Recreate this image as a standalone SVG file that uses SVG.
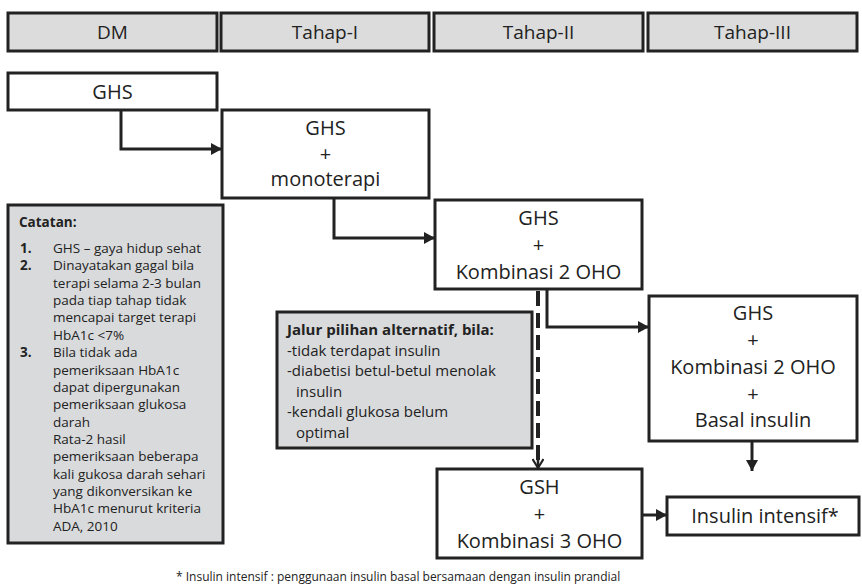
<svg xmlns="http://www.w3.org/2000/svg" width="862" height="585" viewBox="0 0 862 585">
<defs>
<style>
.box{fill:#fff;stroke:#222;stroke-width:3}
.hdr{fill:#dcdcdc;stroke:#222;stroke-width:3}
.note{fill:#d9dadc;stroke:#222;stroke-width:3}
.t{font-family:"Open Sans","Liberation Sans",sans-serif;fill:#222}
.n{font-size:20px;text-anchor:middle}
.h{font-size:19px;text-anchor:middle}
.s{font-size:13.5px}
.a{font-size:15px}
.b{font-weight:bold}
.c{fill:none;stroke:#222;stroke-width:3}
</style>
<marker id="ah" markerUnits="userSpaceOnUse" markerWidth="12" markerHeight="12" refX="11" refY="6" orient="auto">
<path d="M0,0 L11,6 L0,12 z" fill="#222"/>
</marker>
<marker id="av" markerUnits="userSpaceOnUse" markerWidth="14" markerHeight="12" refX="11" refY="6" orient="auto">
<path d="M2,0.5 L11,6 L2,11.5" fill="none" stroke="#222" stroke-width="2.2"/>
</marker>
</defs>
<rect width="862" height="585" fill="#fff"/>

<g id="header">
<g id="h-dm"><rect class="hdr" x="8" y="13" width="209" height="38"/><text class="t h" x="112.5" y="39">DM</text></g>
<g id="h-t1"><rect class="hdr" x="221" y="13" width="208" height="38"/><text class="t h" x="325" y="39">Tahap-I</text></g>
<g id="h-t2"><rect class="hdr" x="434" y="13" width="209" height="38"/><text class="t h" x="538.5" y="39">Tahap-II</text></g>
<g id="h-t3"><rect class="hdr" x="648" y="13" width="209" height="38"/><text class="t h" x="752.5" y="39">Tahap-III</text></g>
</g>

<g id="connectors">
<path class="c" d="M121,110 V149 H222" marker-end="url(#ah)"/>
<path class="c" d="M334,198 V238 H435" marker-end="url(#ah)"/>
<path class="c" d="M547,289 V327 H649" marker-end="url(#ah)"/>
<path class="c" d="M752,441 V471" marker-end="url(#ah)"/>
<path class="c" d="M635,515 H667" marker-end="url(#ah)"/>
<path fill="none" stroke="#222" stroke-width="4" stroke-dasharray="15,7" d="M538,291 V460"/>
<path fill="none" stroke="#222" stroke-width="2.5" d="M538,458 V468" marker-end="url(#av)"/>
</g>

<g id="n-ghs"><rect class="box" x="8" y="73" width="209" height="37"/><text class="t n" x="112.5" y="99">GHS</text></g>

<g id="n-mono"><rect class="box" x="222" y="110" width="207" height="88"/>
<text class="t n" x="325.5" y="135">GHS</text>
<text class="t n" x="325.5" y="161">+</text>
<text class="t n" x="325.5" y="186">monoterapi</text></g>

<g id="n-komb2"><rect class="box" x="435" y="200" width="207" height="89"/>
<text class="t n" x="538.5" y="225">GHS</text>
<text class="t n" x="538.5" y="252">+</text>
<text class="t n" x="538.5" y="279">Kombinasi 2 OHO</text></g>

<g id="n-basal"><rect class="box" x="649" y="296" width="208" height="145"/>
<text class="t n" x="753" y="320">GHS</text>
<text class="t n" x="753" y="347">+</text>
<text class="t n" x="753" y="374">Kombinasi 2 OHO</text>
<text class="t n" x="753" y="401">+</text>
<text class="t n" x="753" y="427">Basal insulin</text></g>

<g id="n-komb3"><rect class="box" x="437" y="469" width="205" height="89"/>
<text class="t n" x="539.5" y="494">GSH</text>
<text class="t n" x="539.5" y="521">+</text>
<text class="t n" x="539.5" y="548">Kombinasi 3 OHO</text></g>

<g id="n-intensif"><rect class="box" x="667" y="497" width="192" height="38"/>
<text class="t n" x="765" y="523">Insulin intensif*</text></g>

<g id="n-catatan"><rect class="note" x="8" y="205" width="215" height="338"/>
<text class="t s b" x="19" y="227">Catatan:</text>
<text class="t s b" x="20" y="253">1.</text><text class="t s" x="53" y="253">GHS – gaya hidup sehat</text>
<text class="t s b" x="20" y="270.4">2.</text><text class="t s" x="53" y="270.4">Dinayatakan gagal bila</text>
<text class="t s" x="53" y="287.7">terapi selama 2-3 bulan</text>
<text class="t s" x="53" y="305">pada tiap tahap tidak</text>
<text class="t s" x="53" y="322.4">mencapai target terapi</text>
<text class="t s" x="53" y="339.8">HbA1c &lt;7%</text>
<text class="t s b" x="20" y="357.1">3.</text><text class="t s" x="53" y="357.1">Bila tidak ada</text>
<text class="t s" x="53" y="374.5">pemeriksaan HbA1c</text>
<text class="t s" x="53" y="391.8">dapat dipergunakan</text>
<text class="t s" x="53" y="409.2">pemeriksaan glukosa</text>
<text class="t s" x="53" y="426.5">darah</text>
<text class="t s" x="53" y="443.9">Rata-2 hasil</text>
<text class="t s" x="53" y="461.2">pemeriksaan beberapa</text>
<text class="t s" x="53" y="478.6">kali gukosa darah sehari</text>
<text class="t s" x="53" y="496">yang dikonversikan ke</text>
<text class="t s" x="53" y="513.3">HbA1c menurut kriteria</text>
<text class="t s" x="53" y="530.7">ADA, 2010</text>
</g>

<g id="n-alt"><rect class="note" x="277" y="312" width="255" height="136"/>
<text class="t a b" x="287" y="335">Jalur pilihan alternatif, bila:</text>
<text class="t a" x="287" y="355.6">-tidak terdapat insulin</text>
<text class="t a" x="287" y="376.2">-diabetisi betul-betul menolak</text>
<text class="t a" x="296" y="396.8">insulin</text>
<text class="t a" x="287" y="417.4">-kendali glukosa belum</text>
<text class="t a" x="296" y="438">optimal</text>
</g>

<text id="footnote" class="t" font-size="12" x="176" y="581">* Insulin intensif : penggunaan insulin basal bersamaan dengan insulin prandial</text>
</svg>
